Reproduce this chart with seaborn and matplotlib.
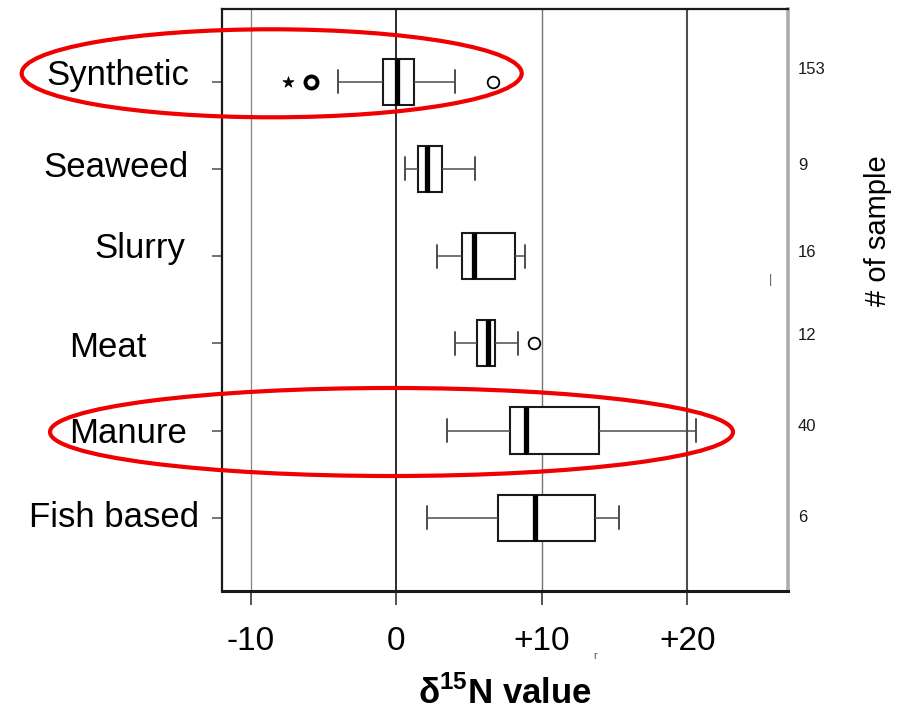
import numpy as np
import pandas as pd
import matplotlib
matplotlib.use("Agg")
import matplotlib.pyplot as plt
import matplotlib.transforms as mtransforms
from matplotlib.patches import Ellipse
import seaborn as sns

# ---------------- data ----------------
CATEGORIES = ["Synthetic", "Seaweed", "Slurry", "Meat", "Manure", "Fish based"]
WHISKER_LOW = [-4.00, 0.58, 2.76, 4.02, 3.49, 2.08]
Q1 = [-0.91, 1.46, 4.52, 5.51, 7.80, 7.00]
MEDIAN = [0.01, 2.08, 5.33, 6.27, 8.90, 9.54]
Q3 = [1.22, 3.15, 8.14, 6.77, 13.92, 13.64]
WHISKER_HIGH = [4.04, 5.42, 8.83, 8.33, 20.59, 15.31]
SAMPLE_COUNTS = ["153", "9", "16", "12", "40", "6"]
OUTLIER_CATEGORY = ["Synthetic", "Synthetic", "Synthetic", "Meat"]
OUTLIER_VALUE = [-7.44, -5.90, 6.61, 9.47]
OUTLIER_KIND = ["extreme", "bold", "normal", "normal"]
X_TICKS = [-10, 0, 10, 20]
X_TICK_LABELS = ["-10", "0", "+10", "+20"]
HIGHLIGHTED = ["Synthetic", "Manure"]

# ---------------- style ----------------
W, H, DPI = 909, 714, 100
GRID_COLORS = ["0.55", "0.1", "0.45", "0.3"]
GRID_WIDTHS = [1.0, 1.3, 1.0, 1.5]
LABEL_CENTER_PX = [118, 116, 140, 108, 128.5, 114.5]
LABEL_BASELINE_DY = [3.3, 8.4, 1.7, 14, 12, 9]
COUNT_DY = [-12, -3.3, -4, -8, -4, -0.7]
ELLIPSES_PX = {"Synthetic": (271.7, 73.3, 500, 88), "Manure": (391.5, 432, 683, 88)}

sns.set_theme(style="white")
plt.rcParams["font.family"] = ["Liberation Sans", "DejaVu Sans"]
plt.rcParams["mathtext.fontset"] = "custom"
plt.rcParams["mathtext.rm"] = "Liberation Sans"
plt.rcParams["mathtext.bf"] = "Liberation Sans:bold"

fig = plt.figure(figsize=(W / DPI, H / DPI), dpi=DPI)
ax = fig.add_axes([222 / W, 1 - 591 / H, (788 - 222) / W, (591 - 9) / H])

# five-number summaries as long-form data -> seaborn boxplot with whiskers at min/max
rows = []
for i, c in enumerate(CATEGORIES):
    for v in (WHISKER_LOW[i], Q1[i], MEDIAN[i], Q3[i], WHISKER_HIGH[i]):
        rows.append({"category": c, "value": v})
df = pd.DataFrame(rows)

for xv, col, lw in zip(X_TICKS, GRID_COLORS, GRID_WIDTHS):
    ax.axvline(xv, color=col, lw=lw, zorder=0.5)

sns.boxplot(
    data=df, x="value", y="category", order=CATEGORIES, orient="h",
    whis=(0, 100), width=0.53, showfliers=False, fill=True, color="white",
    linecolor="black", linewidth=1.3, ax=ax,
    boxprops=dict(facecolor="white", edgecolor="0.1", linewidth=1.5, zorder=2),
    medianprops=dict(color="black", linewidth=3.8, solid_capstyle="butt", zorder=3),
    whiskerprops=dict(color="0.3", linewidth=1.1, zorder=2),
    capprops=dict(color="0.3", linewidth=1.4, zorder=2),
)

out = pd.DataFrame({"y": [CATEGORIES.index(c) for c in OUTLIER_CATEGORY],
                    "x": OUTLIER_VALUE, "kind": OUTLIER_KIND})
sub = out[out.kind == "normal"]
sns.scatterplot(data=sub, x="x", y="y", ax=ax, marker="o", s=70, color="white",
                edgecolor="black", linewidth=1.3, legend=False, zorder=5)
sub = out[out.kind == "bold"]
sns.scatterplot(data=sub, x="x", y="y", ax=ax, marker="o", s=75, color="white",
                edgecolor="black", linewidth=2.8, legend=False, zorder=5)
sub = out[out.kind == "extreme"]
sns.scatterplot(data=sub, x="x", y="y", ax=ax, marker="*", s=70, color="black",
                edgecolor="black", linewidth=0.5, legend=False, zorder=5)

ax.set_xlim(-11.99, 26.91)
ax.set_ylim(5.84, -0.834)
ax.set_xlabel("")
ax.set_ylabel("")

ax.set_xticks(X_TICKS, X_TICK_LABELS)
ax.tick_params(axis="x", bottom=True, length=10, width=1.1, pad=15,
               labelsize=24, labelcolor="black", direction="out")
for t, col in zip(ax.xaxis.get_major_ticks(), GRID_COLORS):
    t.tick1line.set_color(col)
ax.set_yticks(range(len(CATEGORIES)))
ax.tick_params(axis="y", left=True, length=7.4, width=1.1, color="0.3",
               labelleft=False, direction="out")

for side, col, lw in [("left", "0.1", 1.6), ("bottom", "0.1", 2.2),
                      ("top", "0.1", 1.6), ("right", "0.68", 2.6)]:
    ax.spines[side].set_color(col)
    ax.spines[side].set_linewidth(lw)
    ax.spines[side].set_visible(True)

# category labels (pasted text boxes in the reference)
base = mtransforms.blended_transform_factory(fig.transFigure, ax.transData)
for i, c in enumerate(CATEGORIES):
    tr = mtransforms.offset_copy(base, fig=fig, x=0, y=-LABEL_BASELINE_DY[i], units="dots")
    ax.text(LABEL_CENTER_PX[i] / W, i, c, transform=tr, ha="center", va="baseline",
            fontsize=25, color="black", clip_on=False)

# sample counts on the right
for i, n in enumerate(SAMPLE_COUNTS):
    tr = mtransforms.offset_copy(base, fig=fig, x=0, y=-COUNT_DY[i], units="dots")
    ax.text(798 / W, i, n, transform=tr, ha="left", va="center", fontsize=12,
            family=["Liberation Sans Narrow", "Liberation Sans"], color="0.1",
            clip_on=False)

fig.text(878 / W, 1 - 231 / H, "# of sample", rotation=90, ha="center", va="center",
         fontsize=21, color="black")
fig.text(505 / W, 1 - 704 / H, r"δ$^{\mathbf{15}}$N value", ha="center", va="baseline",
         fontsize=25, fontweight="bold", color="black")

# small stray marks in the reference
fig.text(595 / W, 1 - 656 / H, "r", ha="center", va="center", fontsize=8, color="0.35")
fig.text(770 / W, 1 - 280 / H, "|", ha="center", va="center", fontsize=9, color="0.35")

# red highlight ellipses
for c in HIGHLIGHTED:
    cx, cy, ew, eh = ELLIPSES_PX[c]
    e = Ellipse((cx / W, 1 - cy / H), ew / W, eh / H, transform=fig.transFigure,
                fill=False, edgecolor="#f00000", linewidth=3.0, zorder=10)
    fig.add_artist(e)

fig.savefig("out.png", dpi=DPI)
